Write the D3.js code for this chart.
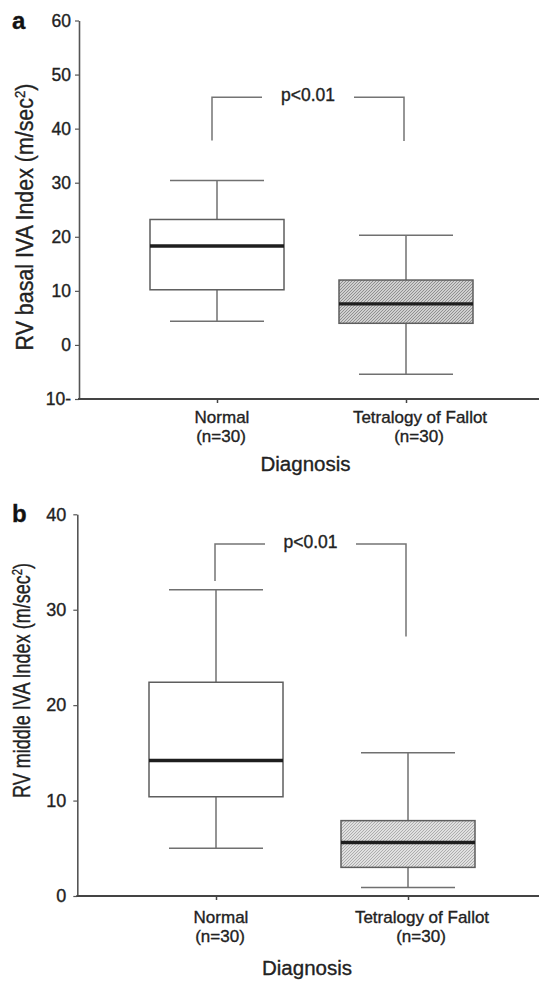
<!DOCTYPE html>
<html>
<head>
<meta charset="utf-8">
<script src="https://cdn.jsdelivr.net/npm/d3@7"></script>
<style>
  html, body { margin: 0; padding: 0; background: #fff; }
  svg { display: block; font-family: "Liberation Sans", Arial, sans-serif; }
  svg text { stroke: #222; stroke-width: 0.35px; }
</style>
</head>
<body>
<svg id="chart" width="541" height="982"></svg>
<script>
// ---------- data ----------
const categories = ["Normal", "Tetralogy of Fallot"];
const sampleSizes = ["(n=30)", "(n=30)"];
const xTitle = "Diagnosis";
const pLabel = "p<0.01";

// Panel a: RV basal IVA index
const basalTitle = "RV basal IVA Index (m/sec";
const basalTicks = [-10, 0, 10, 20, 30, 40, 50, 60];
const basalTickLabels = ["10-", "0", "10", "20", "30", "40", "50", "60"];
const basalWhiskerLow = [4.4, -5.4];
const basalQ1 = [10.2, 4.0];
const basalMedian = [18.3, 7.6];
const basalQ3 = [23.2, 12.0];
const basalWhiskerHigh = [30.4, 20.3];
const basalBracketTop = 45.8;
const basalBracketEnds = [37.8, 37.7];

// Panel b: RV middle IVA index
const middleTitle = "RV middle IVA Index (m/sec";
const middleTicks = [0, 10, 20, 30, 40];
const middleTickLabels = ["0", "10", "20", "30", "40"];
const middleWhiskerLow = [5.0, 0.9];
const middleQ1 = [10.4, 3.0];
const middleMedian = [14.2, 5.6];
const middleQ3 = [22.4, 7.9];
const middleWhiskerHigh = [32.1, 15.0];
const middleBracketTop = 36.9;
const middleBracketEnds = [33.0, 27.2];

// ---------- drawing ----------
const svg = d3.select("#chart");
const defs = svg.append("defs");

function hatch(id, bg, line) {
  const p = defs.append("pattern")
    .attr("id", id).attr("patternUnits", "userSpaceOnUse")
    .attr("width", 3).attr("height", 3);
  p.append("rect").attr("width", 3).attr("height", 3).attr("fill", bg);
  p.append("path").attr("d", "M-1,1 l2,-2 M0,3 l3,-3 M2,4 l2,-2")
    .attr("stroke", line).attr("stroke-width", 0.7);
}
hatch("hatchA", "#cfcfcf", "#747474");
hatch("hatchB", "#e0e0e0", "#969696");

function panel(cfg) {
  const g = svg.append("g");
  const y = d3.scaleLinear().domain(cfg.domain).range(cfg.yRange);
  const x = d3.scalePoint().domain(categories).range(cfg.xRange);
  const yBottom = cfg.yRange[0];

  // y axis
  const yAxis = d3.axisLeft(y).tickValues(cfg.ticks)
    .tickFormat((d, i) => cfg.tickLabels[i])
    .tickSize(4).tickSizeOuter(0).tickPadding(cfg.tickPad);
  const ya = g.append("g").attr("transform", `translate(${cfg.axisX},0)`).call(yAxis);
  ya.select(".domain").attr("stroke", "#555").attr("stroke-width", 1.6);
  ya.selectAll(".tick line").attr("stroke", "#555").attr("stroke-width", 1.2);
  ya.selectAll(".tick text").attr("fill", "#222")
    .style("font-size", cfg.tickFont + "px").style("font-family", "Liberation Sans, Arial, sans-serif");

  // x axis line
  g.append("line").attr("x1", cfg.axisX - 1).attr("x2", 539)
    .attr("y1", yBottom).attr("y2", yBottom)
    .attr("stroke", "#444").attr("stroke-width", 2);
  const xAxis = d3.axisBottom(x).tickSize(4).tickSizeOuter(0).tickFormat("");
  const xa = g.append("g").attr("transform", `translate(0,${yBottom})`).call(xAxis);
  xa.select(".domain").remove();
  xa.selectAll(".tick line").attr("stroke", "#444").attr("stroke-width", 1.5);

  // category labels
  const labelOffset = [5, 14];
  categories.forEach((c, i) => {
    g.append("text").attr("x", x(c) + labelOffset[i]).attr("y", cfg.catY1)
      .attr("text-anchor", "middle").attr("fill", "#222")
      .style("font-size", "17px").text(c);
    g.append("text").attr("x", x(c) + labelOffset[i] - 1).attr("y", cfg.catY2)
      .attr("text-anchor", "middle").attr("fill", "#222")
      .style("font-size", "17px").text(sampleSizes[i]);
  });
  g.append("text").attr("x", cfg.titleX).attr("y", cfg.titleY)
    .attr("text-anchor", "middle").attr("fill", "#222")
    .style("font-size", "20.5px").text(xTitle);

  // y title (condensed to the reference length)
  const yt = g.append("text")
    .attr("text-anchor", "middle").attr("fill", "#222")
    .style("font-size", cfg.yTitleFont + "px");
  yt.append("tspan").text(cfg.title);
  yt.append("tspan").attr("baseline-shift", "super").style("font-size", (cfg.yTitleFont * 0.62) + "px").text("2");
  yt.append("tspan").text(")");
  const w = yt.node().getComputedTextLength();
  const sx = cfg.yTitleLen / w;
  yt.attr("transform", `translate(${cfg.yTitleX},${cfg.yTitleY}) rotate(-90) scale(${sx},1)`);

  // panel letter
  g.append("text").attr("x", 12).attr("y", cfg.letterY).attr("fill", "#111")
    .style("font-size", "24px").style("font-weight", "bold").text(cfg.letter);

  // boxes
  const halfBox = 67, halfCap = 47;
  categories.forEach((c, i) => {
    const cx = x(c);
    const stroke = "#5e5e5e";
    g.append("line").attr("x1", cx).attr("x2", cx)
      .attr("y1", y(cfg.q3[i])).attr("y2", y(cfg.hi[i]))
      .attr("stroke", "#707070").attr("stroke-width", 1.5);
    g.append("line").attr("x1", cx).attr("x2", cx)
      .attr("y1", y(cfg.q1[i])).attr("y2", y(cfg.lo[i]))
      .attr("stroke", "#707070").attr("stroke-width", 1.5);
    [cfg.hi[i], cfg.lo[i]].forEach(v => {
      g.append("line").attr("x1", cx - halfCap).attr("x2", cx + halfCap)
        .attr("y1", y(v)).attr("y2", y(v))
        .attr("stroke", "#707070").attr("stroke-width", 1.5);
    });
    g.append("rect").attr("x", cx - halfBox).attr("width", 2 * halfBox)
      .attr("y", y(cfg.q3[i])).attr("height", y(cfg.q1[i]) - y(cfg.q3[i]))
      .attr("fill", i === 0 ? "#fff" : `url(#${cfg.hatch})`)
      .attr("stroke", stroke).attr("stroke-width", 1.5);
    g.append("line").attr("x1", cx - halfBox).attr("x2", cx + halfBox)
      .attr("y1", y(cfg.med[i])).attr("y2", y(cfg.med[i]))
      .attr("stroke", "#1e1e1e").attr("stroke-width", 3.4);
  });

  // significance bracket
  const bx0 = x(categories[0]) - cfg.bracketShift, bx1 = x(categories[1]) - 2;
  const by = y(cfg.bracketTop);
  const bstroke = "#747474";
  g.append("path")
    .attr("d", `M${bx0},${y(cfg.bracketEnds[0])}V${by}H${bx0 + 50}`)
    .attr("fill", "none").attr("stroke", bstroke).attr("stroke-width", 1.5);
  g.append("path")
    .attr("d", `M${bx1 - 50},${by}H${bx1}V${y(cfg.bracketEnds[1])}`)
    .attr("fill", "none").attr("stroke", bstroke).attr("stroke-width", 1.5);
  g.append("text").attr("x", (bx0 + bx1) / 2).attr("y", by + 4)
    .attr("text-anchor", "middle").attr("fill", "#222")
    .style("font-size", "17.5px").text(pLabel);
}

panel({
  letter: "a", letterY: 29,
  domain: [-10, 60], yRange: [399, 20.5], xRange: [217, 406],
  axisX: 79, ticks: basalTicks, tickLabels: basalTickLabels, tickPad: 4, tickFont: 17.5,
  title: basalTitle, yTitleX: 33, yTitleY: 217, yTitleFont: 24, yTitleLen: 267,
  lo: basalWhiskerLow, q1: basalQ1, med: basalMedian, q3: basalQ3, hi: basalWhiskerHigh,
  bracketTop: basalBracketTop, bracketEnds: basalBracketEnds, bracketShift: 5,
  hatch: "hatchA",
  catY1: 422.7, catY2: 441.7, titleX: 305.5, titleY: 470.7
});

panel({
  letter: "b", letterY: 522,
  domain: [0, 40], yRange: [896, 514.3], xRange: [216, 408],
  axisX: 77.3, ticks: middleTicks, tickLabels: middleTickLabels, tickPad: 7, tickFont: 18,
  title: middleTitle, yTitleX: 30, yTitleY: 680.5, yTitleFont: 24.5, yTitleLen: 235,
  lo: middleWhiskerLow, q1: middleQ1, med: middleMedian, q3: middleQ3, hi: middleWhiskerHigh,
  bracketTop: middleBracketTop, bracketEnds: middleBracketEnds, bracketShift: 1,
  hatch: "hatchB",
  catY1: 923.3, catY2: 941.7, titleX: 307, titleY: 975
});
</script>
</body>
</html>
